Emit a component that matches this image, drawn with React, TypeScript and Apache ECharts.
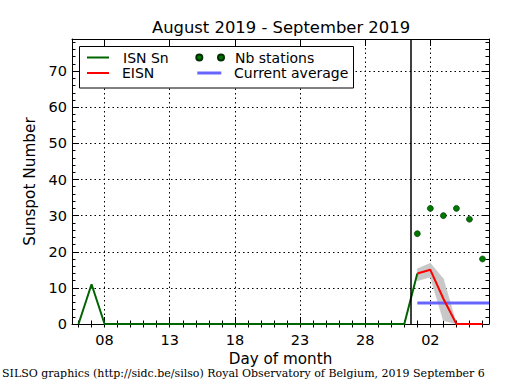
import React, { useEffect, useRef } from "react";
import * as echarts from "echarts";

// ---- data (day numbers counted from 1 August; 32 = 1 September) ----
const isnDays = [6, 7, 8, 9, 10, 11, 12, 13, 14, 15, 16, 17, 18, 19, 20, 21, 22, 23, 24, 25, 26, 27, 28, 29, 30, 31, 32];
const isnValues = [0, 11, 0, 0, 0, 0, 0, 0, 0, 0, 0, 0, 0, 0, 0, 0, 0, 0, 0, 0, 0, 0, 0, 0, 0, 0, 14];

const eisnDays = [32, 33, 34, 35, 36, 37];
const eisnValues = [14, 15, 7, 0, 0, 0];

const bandDays = [32, 33, 34, 35];
const bandLower = [12, 13, 1, 0];
const bandUpper = [15.3, 16.8, 12.5, 0];

const stationDays = [32, 33, 34, 35, 36, 37];
const stationValues = [25, 32, 30, 32, 29, 18];

const averageDays = [32, 37.5];
const averageValues = [5.8, 5.8];

const separatorDay = 31.5;

const xMajorTicks = [8, 13, 18, 23, 28, 33];
const xMinorTicks = [6, 7, 8, 9, 10, 11, 12, 13, 14, 15, 16, 17, 18, 19, 20, 21, 22, 23, 24, 25, 26, 27, 28, 29, 30, 31, 32, 33, 34, 35, 36, 37];
const yMajorTicks = [0, 10, 20, 30, 40, 50, 60, 70];
const yMinorTicks = [0, 2, 4, 6, 8, 10, 12, 14, 16, 18, 20, 22, 24, 26, 28, 30, 32, 34, 36, 38, 40, 42, 44, 46, 48, 50, 52, 54, 56, 58, 60, 62, 64, 66, 68, 70, 72, 74, 76, 78];

const X_MIN = 5.5;
const X_MAX = 37.5;
const Y_MIN = 0;
const Y_MAX = 78.9;

const FONT = "DejaVu Sans";

const dayLabel = (v: number) => {
  const d = v > 31 ? v - 31 : v;
  return String(d).padStart(2, "0");
};

const gridLine = { show: true, lineStyle: { color: "#000", width: 1, type: [1.5, 3] as number[] } };
const frameLine = { show: true, onZero: false, lineStyle: { color: "#000", width: 1 } };

const buildOption = () => {
  const bandSegments = bandDays.slice(0, -1).map((d, i) => [
    d, bandLower[i], bandUpper[i], bandDays[i + 1], bandLower[i + 1], bandUpper[i + 1],
  ]);

  const xBase = { type: "value", min: X_MIN, max: X_MAX, gridIndex: 0 };
  const yBase = { type: "value", min: Y_MIN, max: Y_MAX, gridIndex: 0 };

  return {
    animation: false,
    backgroundColor: "#fff",
    textStyle: { fontFamily: FONT },
    title: {
      text: "August 2019 - September 2019",
      left: 281,
      top: 19,
      textAlign: "center",
      padding: 0,
      textStyle: { fontFamily: FONT, fontSize: 16.4, fontWeight: "normal", color: "#000" },
    },
    grid: { left: 72, right: 26, top: 39, bottom: 66, outerBoundsMode: "none", show: false },
    xAxis: [
      {
        ...xBase,
        position: "bottom",
        name: "Day of month",
        nameLocation: "middle",
        nameGap: 25,
        nameTextStyle: { fontFamily: FONT, fontSize: 15.2, color: "#000" },
        axisLine: frameLine,
        axisTick: { show: true, inside: true, length: 7, customValues: xMajorTicks, lineStyle: { color: "#000", width: 1 } },
        axisLabel: { show: true, customValues: xMajorTicks, formatter: dayLabel, margin: 8, fontFamily: FONT, fontSize: 14.5, color: "#000" },
        splitLine: gridLine,
      },
      {
        ...xBase,
        position: "bottom",
        axisLine: { show: false },
        axisTick: { show: true, inside: true, length: 3.5, customValues: xMinorTicks, lineStyle: { color: "#000", width: 1 } },
        axisLabel: { show: false },
        splitLine: { show: false },
      },
      {
        ...xBase,
        position: "top",
        axisLine: frameLine,
        axisTick: { show: true, inside: true, length: 7, customValues: xMajorTicks, lineStyle: { color: "#000", width: 1 } },
        axisLabel: { show: false },
        splitLine: { show: false },
      },
      {
        ...xBase,
        position: "top",
        axisLine: { show: false },
        axisTick: { show: true, inside: true, length: 3.5, customValues: xMinorTicks, lineStyle: { color: "#000", width: 1 } },
        axisLabel: { show: false },
        splitLine: { show: false },
      },
    ],
    yAxis: [
      {
        ...yBase,
        position: "left",
        name: "Sunspot Number",
        nameLocation: "middle",
        nameGap: 34,
        nameRotate: 90,
        nameTextStyle: { fontFamily: FONT, fontSize: 15.3, color: "#000" },
        axisLine: frameLine,
        axisTick: { show: true, inside: true, length: 7, customValues: yMajorTicks, lineStyle: { color: "#000", width: 1 } },
        axisLabel: { show: true, customValues: yMajorTicks, margin: 5, fontFamily: FONT, fontSize: 14.5, color: "#000" },
        splitLine: gridLine,
      },
      {
        ...yBase,
        position: "left",
        axisLine: { show: false },
        axisTick: { show: true, inside: true, length: 3.5, customValues: yMinorTicks, lineStyle: { color: "#000", width: 1 } },
        axisLabel: { show: false },
        splitLine: { show: false },
      },
      {
        ...yBase,
        position: "right",
        axisLine: frameLine,
        axisTick: { show: true, inside: true, length: 7, customValues: yMajorTicks, lineStyle: { color: "#000", width: 1 } },
        axisLabel: { show: false },
        splitLine: { show: false },
      },
      {
        ...yBase,
        position: "right",
        axisLine: { show: false },
        axisTick: { show: true, inside: true, length: 3.5, customValues: yMinorTicks, lineStyle: { color: "#000", width: 1 } },
        axisLabel: { show: false },
        splitLine: { show: false },
      },
    ],
    legend: [
      {
        left: 87, top: 50.5, padding: 0, selectedMode: false, z: 6,
        itemWidth: 22, itemHeight: 2,
        data: [{ name: "ISN Sn", icon: "rect" }],
        textStyle: { color: "#000", fontFamily: FONT, fontSize: 14, padding: [0, 0, 0, 9] },
      },
      {
        left: 87, top: 66, padding: 0, selectedMode: false, z: 6,
        itemWidth: 22, itemHeight: 2,
        data: [{ name: "EISN", icon: "rect" }],
        textStyle: { color: "#000", fontFamily: FONT, fontSize: 14, padding: [0, 0, 0, 8] },
      },
      {
        left: 195.3, top: 50.5, padding: 0, selectedMode: false, z: 6,
        itemWidth: 27.7, itemHeight: 6,
        data: [{ name: "Nb stations", icon: "path://M3,0A3,3,0,1,1,3,6A3,3,0,1,1,3,0ZM24.7,0A3,3,0,1,1,24.7,6A3,3,0,1,1,24.7,0Z" }],
        textStyle: { color: "#000", fontFamily: FONT, fontSize: 14, padding: [0, 0, 0, 6] },
      },
      {
        left: 197.3, top: 66, padding: 0, selectedMode: false, z: 6,
        itemWidth: 24, itemHeight: 3,
        data: [{ name: "Current average", icon: "rect" }],
        textStyle: { color: "#000", fontFamily: FONT, fontSize: 14, padding: [0, 0, 0, 7.7] },
      },
    ],
    graphic: [
      {
        type: "rect",
        z: 5,
        shape: { x: 79.5, y: 46.5, width: 274, height: 41.5 },
        style: { fill: "#fff", stroke: "#000", lineWidth: 1 },
      },
      {
        type: "text",
        left: 2,
        top: 368,
        z: 5,
        style: {
          text: "SILSO graphics (http://sidc.be/silso) Royal Observatory of Belgium, 2019 September 6",
          fontFamily: "DejaVu Serif",
          fontSize: 11,
          fill: "#000",
        },
      },
    ],
    series: [
      {
        type: "custom",
        name: "EISN band",
        xAxisIndex: 0,
        yAxisIndex: 0,
        z: 1,
        silent: true,
        data: bandSegments,
        encode: { x: [0, 3], y: [1, 2, 4, 5] },
        renderItem: (_params: any, api: any) => {
          const x0 = api.value(0), l0 = api.value(1), h0 = api.value(2);
          const x1 = api.value(3), l1 = api.value(4), h1 = api.value(5);
          return {
            type: "polygon",
            shape: { points: [api.coord([x0, l0]), api.coord([x1, l1]), api.coord([x1, h1]), api.coord([x0, h0])] },
            style: { fill: "#c8c8c8", stroke: "#c8c8c8", lineWidth: 0.6 },
          };
        },
      },
      {
        type: "line",
        name: "ISN Sn",
        xAxisIndex: 0,
        yAxisIndex: 0,
        z: 2,
        color: "#006400",
        symbol: "none",
        showSymbol: false,
        lineStyle: { color: "#006400", width: 2 },
        data: isnDays.map((d, i) => [d, isnValues[i]]),
      },
      {
        type: "line",
        name: "Current average",
        xAxisIndex: 0,
        yAxisIndex: 0,
        z: 3,
        color: "#6666ff",
        symbol: "none",
        showSymbol: false,
        lineStyle: { color: "#6666ff", width: 3 },
        data: averageDays.map((d, i) => [d, averageValues[i]]),
      },
      {
        type: "line",
        name: "EISN",
        xAxisIndex: 0,
        yAxisIndex: 0,
        z: 4,
        color: "#ff0000",
        symbol: "none",
        showSymbol: false,
        lineStyle: { color: "#ff0000", width: 2 },
        data: eisnDays.map((d, i) => [d, eisnValues[i]]),
        markLine: {
          silent: true,
          symbol: "none",
          animation: false,
          label: { show: false },
          lineStyle: { color: "#000", width: 1.5, type: "solid" },
          emphasis: { disabled: true },
          data: [{ xAxis: separatorDay }],
        },
      },
      {
        type: "scatter",
        name: "Nb stations",
        xAxisIndex: 0,
        yAxisIndex: 0,
        z: 5,
        color: "#007800",
        symbol: "circle",
        symbolSize: 6,
        itemStyle: { color: "#007800", borderColor: "#003000", borderWidth: 0.6, opacity: 1 },
        data: stationDays.map((d, i) => [d, stationValues[i]]),
      },
    ],
  };
};

export default function App() {
  const ref = useRef<HTMLDivElement>(null);
  useEffect(() => {
    if (!ref.current) return;
    const chart = echarts.init(ref.current, undefined, { renderer: "svg" });
    chart.setOption(buildOption() as any);
    return () => chart.dispose();
  }, []);
  return <div ref={ref} style={{ position: "absolute", left: 0, top: 0, width: 515, height: 390 }} />;
}
